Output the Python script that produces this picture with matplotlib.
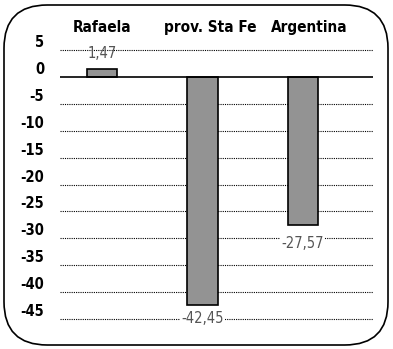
import matplotlib.pyplot as plt
from matplotlib.patches import FancyBboxPatch
from matplotlib.transforms import ScaledTranslation

regiones = ['Rafaela', 'prov. Sta Fe', 'Argentina']
variacion = [1.47, -42.45, -27.57]
ticks_y = [5, 0, -5, -10, -15, -20, -25, -30, -35, -40, -45]

fig = plt.figure(figsize=(3.93, 3.49), dpi=100)
W, H = 393, 349

# marco redondeado
marco = FancyBboxPatch((4 / W, 4 / H), 384 / W, 340 / H,
                       boxstyle='round,pad=0,rounding_size=0.11',
                       transform=fig.transFigure, fc='none', ec='black', lw=1.2,
                       mutation_aspect=W / H)
fig.patches.append(marco)

fuente = dict(family='DejaVu Sans', stretch='condensed')

ax = fig.add_axes([60 / W, 1 - 330 / H, 313 / W, (330 - 40) / H])
x = range(len(regiones))
ax.bar(x, variacion, width=0.3, color='#939393', edgecolor='black', lw=1.2, zorder=3)

ax.set_xlim(-0.42, 2.70)
# 0 en y=77px, -45 en y=319px
esc = (319 - 77) / 45
ax.set_ylim(-45 - 11 / esc, (77 - 40) / esc)

for t in ticks_y:
    if t == 0:
        ax.axhline(0, color='black', lw=1.2, zorder=4)
    else:
        ax.axhline(t, color='black', lw=0.8, ls=(0, (1, 1)), zorder=1)

ax.set_yticks(ticks_y)
ax.set_yticklabels([str(t) for t in ticks_y], fontweight='bold', fontsize=10.5, **fuente)
ax.tick_params(axis='y', length=0, pad=11.5)
for lab in ax.get_yticklabels():
    lab.set_va('baseline')
    lab.set_transform(lab.get_transform() + ScaledTranslation(0, 3 / 100, fig.dpi_scale_trans))
ax.set_xticks([])
for s in ax.spines.values():
    s.set_visible(False)

# nombres arriba, algo corridos a la derecha
corrimiento = [0, 0.08, 0.06]
for i, r in enumerate(regiones):
    ax.text(i + corrimiento[i], 1 + 8 / 290, r, transform=ax.get_xaxis_transform(),
            ha='center', va='baseline', fontweight='bold', fontsize=11, **fuente)

etiquetas = [f'{v:.2f}'.replace('.', ',') for v in variacion]
separacion = [2.0, 1.1, 2.0]
for i, (v, e) in enumerate(zip(variacion, etiquetas)):
    if v > 0:
        ax.text(i, v + separacion[i], e, ha='center', va='baseline', color='#555555',
                fontsize=10.5, zorder=5, **fuente)
    else:
        ax.text(i, v - separacion[i], e, ha='center', va='top', color='#555555',
                fontsize=10.5, zorder=5, bbox=dict(fc='white', ec='none', pad=1), **fuente)

fig.savefig('out.png', dpi=100)
